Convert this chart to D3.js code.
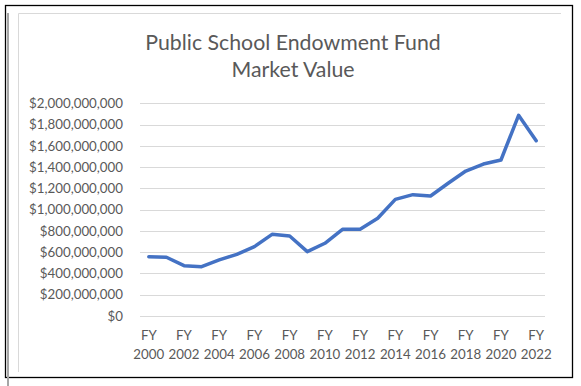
<!DOCTYPE html>
<html>
<head>
<meta charset="utf-8">
<script src="https://cdn.jsdelivr.net/npm/d3@7"></script>
<style>
  body { margin: 0; background: #fff; }
  svg { display: block; }
</style>
</head>
<body>
<div id="chart"></div>
<script>
let width = 581
  , height = 386
  , plotLeft = 140
  , plotRight = 545
  , plotTop = 103.3
  , plotBottom = 316;

// fiscal years + market value
let years = d3.range(2000, 2023);
let values = [
  557e6, 552e6, 473e6, 464e6, 527e6, 580e6, 652e6, 768e6, 752e6, 605e6,
  684e6, 815e6, 815e6, 919e6, 1097e6, 1141e6, 1128e6, 1248e6, 1363e6,
  1429e6, 1467e6, 1887e6, 1648e6
];
let yTicks = d3.range(0, 2000000001, 200000000);
let xTickYears = years.filter(y => y % 2 == 0);
let titleLines = ['Public School Endowment Fund', 'Market Value'];

let data = years.map((y, i) => ({ year: y, value: values[i] }));

let svg = d3.select('#chart').append('svg')
  .attr('width', width).attr('height', height);

// frames (screenshot edges)
svg.append('rect')
  .attr('x', 5.5).attr('y', 5.5).attr('width', 567).attr('height', 372)
  .attr('fill', 'none').attr('stroke', '#000').attr('stroke-width', 1.3);
svg.append('rect')
  .attr('x', 7).attr('y', 13).attr('width', 2).attr('height', height - 13)
  .attr('fill', '#a6a6a6');
svg.append('path')
  .attr('d', 'M18.5,372V13.5H561')
  .attr('fill', 'none').attr('stroke', '#d9d9d9');

let x = d3.scalePoint().domain(years).range([plotLeft, plotRight]).padding(0.5);
let y = d3.scaleLinear().domain([0, 2000000000]).range([plotBottom, plotTop]);

// gridlines
svg.append('g').selectAll('line')
  .data(yTicks).enter()
  .append('line')
  .attr('x1', plotLeft).attr('x2', plotRight)
  .attr('y1', d => Math.round(y(d)) + 0.5).attr('y2', d => Math.round(y(d)) + 0.5)
  .attr('stroke', '#d9d9d9').attr('stroke-width', 1);

// y axis labels
let fmt = d3.format('$,.0f');
let yAxis = d3.axisLeft(y).tickValues(yTicks).tickFormat(fmt).tickSize(0).tickPadding(17);
svg.append('g')
  .attr('transform', `translate(${plotLeft},0)`)
  .call(yAxis)
  .call(g => g.select('.domain').remove())
  .selectAll('text')
  .attr('fill', '#595959')
  .style('font-family', 'Lato, Carlito, sans-serif')
  .style('font-size', '13.3px');

// x axis labels, two lines
let xl = svg.append('g').selectAll('text')
  .data(xTickYears).enter()
  .append('text')
  .attr('x', d => x(d))
  .attr('text-anchor', 'middle')
  .attr('fill', '#595959')
  .style('font-family', 'Lato, Carlito, sans-serif')
  .style('font-size', '13.3px');
xl.append('tspan').attr('x', d => x(d)).attr('y', 340).text('FY');
xl.append('tspan').attr('x', d => x(d)).attr('y', 359).text(d => d);

// the line
let line = d3.line().x(d => x(d.year)).y(d => y(d.value));
svg.append('path')
  .datum(data)
  .attr('d', line)
  .attr('fill', 'none')
  .attr('stroke', '#4472c4')
  .attr('stroke-width', 3.5)
  .attr('stroke-linejoin', 'round')
  .attr('stroke-linecap', 'round');

// title
svg.append('g').selectAll('text')
  .data(titleLines).enter()
  .append('text')
  .attr('x', 293)
  .attr('y', (d, i) => 50 + i * 27)
  .attr('text-anchor', 'middle')
  .attr('fill', '#595959')
  .style('font-family', 'Lato, Carlito, sans-serif')
  .style('font-size', '21.3px')
  .text(d => d);
</script>
</body>
</html>
